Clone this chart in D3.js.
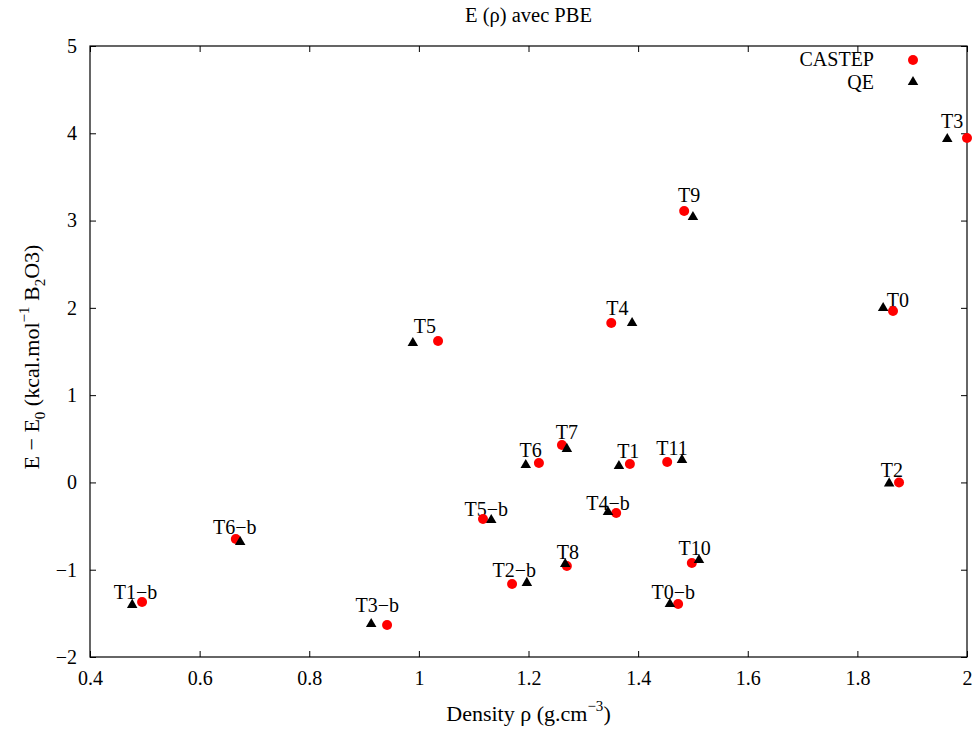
<!DOCTYPE html>
<html>
<head>
<meta charset="utf-8">
<script src="https://cdn.jsdelivr.net/npm/d3@7"></script>
<style>
  body { margin: 0; background: #fff; }
  svg text { font-family: "Liberation Serif", "Times New Roman", serif; fill: #000; }
  .axis path, .axis line { stroke: #000; stroke-width: 1; }
  .axis text { font-size: 20px; font-family: "Liberation Serif", serif; }
</style>
</head>
<body>
<div id="chart"></div>
<script>
// structures, in the order of the picture labels
var names = ["T0", "T1", "T2", "T3", "T4", "T5", "T6", "T7", "T8", "T9", "T10", "T11",
             "T0\u2212b", "T1\u2212b", "T2\u2212b", "T3\u2212b", "T4\u2212b", "T5\u2212b", "T6\u2212b"];

// CASTEP: density, energy
var castep_rho = [1.865, 1.385, 1.876, 2.000, 1.351, 1.035, 1.219, 1.261, 1.270, 1.484, 1.498, 1.453,
                  1.473, 0.495, 1.170, 0.942, 1.360, 1.117, 0.666];
var castep_e   = [1.964, 0.211, 0.000, 3.946, 1.827, 1.620, 0.223, 0.429, -0.957, 3.110, -0.923, 0.234,
                  -1.392, -1.370, -1.163, -1.633, -0.350, -0.419, -0.648];

// QE: density, energy
var qe_rho = [1.847, 1.365, 1.858, 1.964, 1.389, 0.989, 1.195, 1.270, 1.267, 1.500, 1.511, 1.480,
              1.458, 0.477, 1.197, 0.913, 1.345, 1.132, 0.674];
var qe_e   = [2.010, 0.200, 0.000, 3.946, 1.838, 1.609, 0.211, 0.395, -0.923, 3.052, -0.877, 0.269,
              -1.381, -1.392, -1.140, -1.610, -0.327, -0.419, -0.671];

// where each name is written (graph coordinates)
var label_rho = [1.874, 1.382, 1.863, 1.973, 1.362, 1.011, 1.204, 1.270, 1.272, 1.493, 1.503, 1.462,
                 1.464, 0.483, 1.174, 0.924, 1.345, 1.123, 0.664];
var label_e   = [2.010, 0.280, 0.062, 4.061, 1.918, 1.712, 0.292, 0.498, -0.877, 3.213, -0.831, 0.314,
                 -1.335, -1.335, -1.083, -1.484, -0.316, -0.384, -0.590];

var x_ticks = [0.4, 0.6, 0.8, 1.0, 1.2, 1.4, 1.6, 1.8, 2.0];
var y_ticks = [-2, -1, 0, 1, 2, 3, 4, 5];

var width = 978, height = 731;
var margin = {top: 46, right: 11, bottom: 74, left: 90};
var w = width - margin.left - margin.right,
    h = height - margin.top - margin.bottom;

var svg = d3.select("#chart").append("svg")
    .attr("width", width)
    .attr("height", height);

var g = svg.append("g")
    .attr("transform", "translate(" + margin.left + "," + margin.top + ")");

var x = d3.scaleLinear().domain([0.4, 2.0]).range([0, w]);
var y = d3.scaleLinear().domain([-2, 5]).range([h, 0]);

var fmt = function(d) { return d3.format("")(+d.toFixed(1)).replace("-", "\u2212"); };

g.append("g")
    .attr("class", "axis")
    .attr("transform", "translate(0," + h + ")")
    .call(d3.axisBottom(x).tickValues(x_ticks).tickSizeInner(-6).tickSizeOuter(0).tickPadding(14).tickFormat(fmt));

g.append("g")
    .attr("class", "axis")
    .call(d3.axisTop(x).tickValues(x_ticks).tickSizeInner(-6).tickSizeOuter(0).tickFormat(""));

g.append("g")
    .attr("class", "axis")
    .call(d3.axisLeft(y).tickValues(y_ticks).tickSizeInner(-6).tickSizeOuter(0).tickPadding(13).tickFormat(fmt));

g.append("g")
    .attr("class", "axis")
    .attr("transform", "translate(" + w + ",0)")
    .call(d3.axisRight(y).tickValues(y_ticks).tickSizeInner(-6).tickSizeOuter(0).tickFormat(""));

g.selectAll(".axis .domain").remove();
g.selectAll(".axis").attr("font-family", null).attr("font-size", null);

g.append("rect")
    .attr("width", w)
    .attr("height", h)
    .attr("fill", "none")
    .attr("stroke", "#000")
    .attr("stroke-width", 1.2);

// names
g.selectAll(".lbl")
    .data(names)
    .enter().append("text")
    .attr("class", "lbl")
    .attr("x", function(d, i) { return x(label_rho[i]); })
    .attr("y", function(d, i) { return y(label_e[i]); })
    .attr("text-anchor", "middle")
    .style("font-size", "20px")
    .text(function(d) { return d; });

var tri = d3.symbol().type(d3.symbolTriangle).size(48);

g.selectAll(".castep")
    .data(names)
    .enter().append("circle")
    .attr("class", "castep")
    .attr("cx", function(d, i) { return x(castep_rho[i]); })
    .attr("cy", function(d, i) { return y(castep_e[i]); })
    .attr("r", 5)
    .attr("fill", "#ff0000");

g.selectAll(".qe")
    .data(names)
    .enter().append("path")
    .attr("class", "qe")
    .attr("d", tri)
    .attr("transform", function(d, i) { return "translate(" + x(qe_rho[i]) + "," + (y(qe_e[i]) + 1) + ")"; })
    .attr("fill", "#000");

// legend
var legend = g.append("g").attr("transform", "translate(" + (w - 93) + ",0)");
legend.append("text").attr("x", 0).attr("y", 20).attr("text-anchor", "end").style("font-size", "20px").text("CASTEP");
legend.append("circle").attr("cx", 39).attr("cy", 14).attr("r", 5).attr("fill", "#ff0000");
legend.append("text").attr("x", 0).attr("y", 43).attr("text-anchor", "end").style("font-size", "20px").text("QE");
legend.append("path").attr("d", tri).attr("transform", "translate(39,36)").attr("fill", "#000");

// title
svg.append("text")
    .attr("x", margin.left + w / 2)
    .attr("y", 22)
    .attr("text-anchor", "middle")
    .style("font-size", "20.5px")
    .text("E (\u03c1) avec PBE");

// x label
var xl = svg.append("text")
    .attr("x", margin.left + w / 2)
    .attr("y", 721)
    .attr("text-anchor", "middle")
    .style("font-size", "22px");
xl.append("tspan").text("Density \u03c1 (g.cm");
xl.append("tspan").attr("dy", -10).style("font-size", "15px").text("\u22123");
xl.append("tspan").attr("dy", 10).text(")");

// y label
var yl = svg.append("text")
    .attr("transform", "translate(39,357) rotate(-90)")
    .attr("text-anchor", "middle")
    .style("font-size", "22px");
yl.append("tspan").text("E \u2212 E");
yl.append("tspan").attr("dy", 6).style("font-size", "15px").text("0");
yl.append("tspan").attr("dy", -6).text(" (kcal.mol");
yl.append("tspan").attr("dy", -10).style("font-size", "15px").text("\u22121");
yl.append("tspan").attr("dy", 10).text(" B");
yl.append("tspan").attr("dy", 6).style("font-size", "15px").text("2");
yl.append("tspan").attr("dy", -6).text("O3)");
</script>
</body>
</html>
